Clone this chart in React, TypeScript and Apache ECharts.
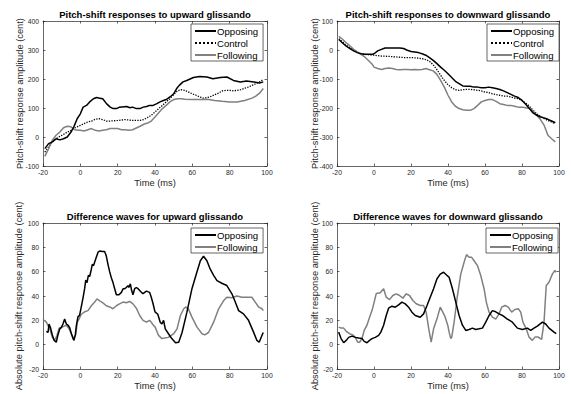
import React, { useEffect, useRef } from "react";
import * as echarts from "echarts";

// ---------- DATA ----------
// Panel 1: Pitch-shift responses to upward glissando
const upOppT = [-19, -17, -15, -13, -11, -9, -7, -5, -3.5, -1.7, 0, 1.5, 3.3, 5, 7, 8.7, 10.4, 12, 14, 16, 17.6, 19.4, 21, 24.8, 26.6, 28, 30, 32, 33.7, 35.5, 37, 39, 41, 42.7, 44.5, 46, 48, 50, 51.6, 53, 55, 57, 60.6, 64, 67.8, 71, 75, 78.5, 82, 85.7, 89, 93, 96, 98];
const upOpp = [-40, -23, -17, -6, -10, -6, 0, 17, 35, 63, 80, 103, 109, 121, 132, 136, 134, 132, 115, 103, 98, 98, 103, 105, 101, 103, 98, 98, 103, 105, 109, 109, 115, 121, 126, 129, 138, 149, 167, 178, 190, 195, 205, 209, 207, 201, 205, 207, 195, 190, 193, 190, 186, 190];
const upCtlT = [-19, -17, -15, -13, -11, -9, -7, -5, -3, -1, 0, 2, 4, 6, 8, 10, 12, 14, 16, 20, 24, 28, 32, 34, 36, 38, 40, 42, 44, 46, 48, 50, 52, 54, 56, 58, 60, 62, 64, 66, 68, 70, 72, 74, 76, 78, 80, 82, 84, 86, 88, 90, 92, 94, 96, 98];
const upCtl = [-52, -34, -17, -6, 2, 9, 17, 23, 31, 37, 40, 46, 52, 55, 61, 63, 60, 55, 55, 57, 60, 57, 57, 60, 67, 75, 86, 98, 109, 121, 132, 146, 159, 163, 161, 155, 149, 144, 138, 134, 136, 140, 146, 151, 159, 161, 161, 159, 161, 163, 168, 172, 178, 184, 190, 198];
const upFolT = [-19, -17, -15, -13, -11, -9, -7, -5, -3, -1, 0, 2, 4, 6, 8, 10, 12, 14, 16, 18, 20, 22, 24, 26, 28, 30, 32, 34, 36, 38, 40, 42, 44, 46, 48, 50, 52, 54, 56, 60, 64, 68, 72, 76, 80, 84, 88, 92, 94, 96, 98];
const upFol = [-67, -40, -11, 6, 17, 32, 37, 35, 25, 23, 23, 21, 25, 29, 23, 21, 23, 25, 29, 29, 29, 25, 25, 23, 25, 31, 37, 44, 48, 55, 69, 84, 98, 109, 121, 129, 132, 132, 130, 129, 129, 130, 126, 123, 121, 121, 126, 134, 141, 151, 167];

// Panel 2: Pitch-shift responses to downward glissando
const downOppT = [-19, -17, -15, -13, -11, -9, -7, -5, -3, -1, 0, 2, 4, 6, 8, 10, 12, 14, 16, 18, 20, 22, 24, 26, 28, 30, 32, 34, 36, 38, 40, 42, 44, 46, 48, 50, 52, 54, 56, 58, 60, 62, 64, 66, 68, 70, 72, 74, 76, 78, 80, 82, 84, 86, 88, 90, 92, 94, 96, 98];
const downOpp = [36, 24, 13, 5, -3, -9, -13, -15, -15, -15, -13, -3, 2, 7, 7, 7, 7, 7, 5, -1, -5, -7, -9, -13, -18, -26, -36, -47, -59, -70, -82, -95, -108, -116, -124, -125, -125, -128, -128, -130, -130, -128, -130, -133, -136, -141, -147, -153, -159, -164, -174, -187, -202, -217, -225, -231, -234, -239, -245, -251];
const downCtlT = [-19, -17, -15, -13, -11, -9, -7, -5, -3, -1, 0, 4, 8, 12, 16, 20, 24, 26, 28, 30, 32, 34, 36, 38, 40, 42, 44, 46, 48, 50, 52, 54, 56, 58, 60, 62, 64, 66, 68, 70, 72, 74, 76, 78, 80, 82, 84, 86, 88, 90, 92, 94, 96, 98];
const downCtl = [39, 28, 16, 7, -1, -7, -13, -15, -16, -18, -18, -21, -22, -24, -26, -26, -28, -30, -33, -39, -51, -68, -87, -105, -120, -130, -137, -139, -137, -136, -136, -137, -139, -141, -145, -147, -151, -154, -156, -159, -159, -162, -166, -168, -174, -183, -194, -208, -220, -229, -237, -243, -248, -254];
const downFolT = [-19, -17, -15, -13, -11, -9, -7, -5, -3, -1, 0, 2, 4, 6, 8, 10, 12, 14, 16, 18, 20, 22, 24, 26, 28, 30, 32, 34, 36, 38, 40, 42, 44, 46, 48, 50, 52, 54, 56, 58, 60, 62, 64, 66, 68, 70, 72, 74, 76, 78, 80, 82, 84, 86, 88, 90, 92, 94, 96, 98];
const downFol = [47, 37, 25, 14, 2, -7, -15, -24, -36, -49, -59, -64, -67, -64, -62, -64, -67, -68, -67, -67, -68, -67, -68, -67, -64, -68, -72, -84, -105, -128, -156, -179, -194, -202, -206, -208, -208, -202, -191, -179, -174, -171, -171, -177, -185, -188, -191, -191, -194, -197, -197, -199, -202, -210, -225, -240, -260, -294, -306, -317];

// Panel 3: Difference waves for upward glissando
const upDiffOppT = [-18.2, -17.3, -16.8, -16, -15, -14, -12.9, -12, -11, -10.2, -9.3, -8.4, -7.5, -6.6, -5.7, -4.8, -3.9, -3.4, -2.7, -2.1, -1.25, -0.4, 0.5, 1.4, 2.3, 2.9, 3.6, 4.3, 5, 5.9, 6.4, 7.1, 7.7, 8.6, 9.5, 10.4, 11.8, 13, 13.9, 14.8, 15.7, 16.6, 17.5, 18.4, 19.3, 20.7, 22, 22.9, 23.8, 24.6, 25.5, 26, 26.8, 27.5, 28.2, 29.1, 30, 30.9, 31.8, 32.7, 33.6, 35.4, 37.1, 38, 38.9, 40, 41.5, 42.8, 43.7, 44.6, 45.5, 47.2, 49, 51, 52.7, 54.5, 57.1, 59.8, 62.5, 64.3, 66, 67.8, 69.6, 71.4, 73.2, 75.8, 78.5, 81.2, 83, 84.8, 87.4, 90.1, 92.8, 94.6, 95.8, 97.3, 98];
const upDiffOpp = [11, 10, 17, 14, 8, 3.5, 2, 8, 13, 14, 17, 21, 17, 16, 14, 9, 5, 3.5, 8, 16, 23, 24, 31, 38, 46, 53, 51, 57, 56, 62, 66, 65, 68, 72, 76, 77, 76.5, 76.5, 73, 66, 60, 55, 51, 46, 41, 41, 43, 46, 46, 47, 48.5, 47, 50, 44.5, 41, 46, 47, 46, 44.5, 43, 42, 44, 43, 39, 34, 27, 25, 18.5, 17, 20, 13, 9, 5, 1.6, 2, 10, 26.7, 46, 60, 69, 72.7, 69, 62, 57, 52.7, 50.5, 48.6, 41.8, 35, 28, 25.3, 20, 10.3, 3.5, 2, 7.6, 10];
const upDiffFolT = [-20, -18.2, -16.4, -15, -13.8, -12.5, -11.4, -10.2, -8.9, -7.5, -6, -4.8, -3.6, -2.5, -1.6, -0.7, 0.5, 2.3, 4.1, 5.9, 7.7, 8.9, 10.4, 12.1, 13.9, 15.7, 17.5, 19.3, 21, 22.9, 24.6, 26.4, 28.2, 30, 31.8, 33.6, 35.4, 37.1, 38, 38.9, 40.1, 41.9, 43.7, 47.2, 50, 51.8, 53.6, 55.4, 56.6, 58, 59.8, 62.5, 65.2, 66.6, 68.7, 71.4, 74.1, 76.7, 78.5, 81.2, 83.9, 86.5, 89.2, 91.9, 93.7, 95.5, 97.3, 98];
const upDiffFol = [20.7, 18.5, 13, 6, 3.5, 7.5, 13.6, 14.4, 15, 16, 13, 9, 5, 8, 18.5, 21, 25, 27, 28, 32, 35, 37.6, 36, 34.4, 32, 31, 29.5, 32, 33.5, 35, 34.4, 35.5, 33.5, 30, 24, 20, 18.5, 20, 18.5, 16.3, 14.4, 7.6, 5, 6, 9, 13, 24, 29.5, 31, 29, 22.6, 14.4, 9, 8, 10, 18.5, 29.5, 36, 39, 38.5, 40, 39, 39, 39, 35, 31, 29.5, 28];

// Panel 4: Difference waves for downward glissando
const downDiffOppT = [-19.1, -17.8, -16.4, -15, -13.7, -11.9, -10.1, -8.3, -6.5, -5.3, -3.8, -2.4, -1.1, 0.7, 2.5, 3.7, 5.2, 6.6, 7.9, 9.7, 11.5, 13.3, 15.1, 16.9, 18.7, 20.5, 22.3, 25, 26.8, 28.6, 30.4, 32.2, 34, 35.8, 37.6, 39.4, 40.6, 42.4, 44.2, 46, 47.8, 49.6, 51.4, 53.2, 55, 56.8, 58.6, 60.4, 62.2, 64, 65.8, 67.6, 69.4, 72.1, 74.8, 77.5, 80.2, 82.9, 84.7, 86.5, 88.3, 91, 92.8, 94.6, 97.3, 98.5];
const downDiffOpp = [10.3, 5, 1.6, 3.5, 6, 7, 6, 5.4, 5, 2.7, 1.6, 3.5, 5, 6, 7.6, 10.3, 16, 24, 30, 31.6, 30.8, 32.7, 35, 33.5, 30.8, 26.7, 24, 22.6, 25.3, 32, 39, 46, 54, 58, 59.5, 57, 55.4, 46, 35, 24, 16, 11.7, 12.5, 13.6, 12.5, 13, 13.6, 18.5, 24, 28, 27, 25.3, 24, 21, 18.5, 13.6, 12.5, 13.6, 11.7, 13.6, 15.2, 18.5, 17, 13.6, 10.3, 9];
const downDiffFolT = [-19.1, -17.8, -16.4, -15, -13.2, -11.4, -10.1, -8.8, -7.8, -6.5, -5.3, -3.8, -2.4, -1.1, 0.1, 1.2, 3.4, 5.2, 6.6, 8.4, 10.2, 12, 13.8, 15.6, 17.4, 19.2, 21, 22.8, 25, 26.8, 28.2, 29.6, 30.9, 32.2, 34, 35.8, 37.2, 38.5, 39.9, 40.6, 41.5, 42, 43.3, 45.1, 46.9, 48.7, 50, 51.4, 52.8, 54.1, 55.9, 57.7, 59.5, 60.7, 62.2, 64, 65.8, 67.6, 69, 70.8, 72.6, 74.4, 76.2, 78, 79.3, 80.5, 82.3, 83.8, 85.6, 87, 88.8, 90.6, 91.9, 93.1, 94.6, 96.4, 97.8, 98.5];
const downDiffFol = [14.4, 13.6, 13.6, 11, 9, 8, 6, 2, 2, 5, 11.7, 16, 22.6, 28, 35, 42, 42.6, 46, 39, 37, 40.4, 41.8, 40.4, 38.2, 41.8, 40.4, 36.3, 33.6, 32.2, 32.2, 26.7, 13, 2, 13, 21, 30.8, 26.7, 22.6, 15.8, 10.3, 5, 6, 18.5, 40.4, 58, 67.7, 74, 71.8, 71.8, 69, 65, 56.8, 46, 35, 26.7, 22.6, 21, 25.3, 30.8, 32.2, 30.8, 26.7, 28.9, 29.5, 26.7, 18.5, 13, 6.2, 3.5, 6.2, 6.2, 4.3, 18.5, 48.6, 51.3, 58, 61, 59.5];

const titles = [
  "Pitch-shift responses to upward glissando",
  "Pitch-shift responses to downward glissando",
  "Difference waves for upward glissando",
  "Difference waves for downward glissando",
];
const yNames = [
  "Pitch-shift response amplitude (cent)",
  "Pitch-shift response amplitude (cent)",
  "Absolute pitch-shift response amplitude (cent)",
  "Absolute pitch-shift response amplitude (cent)",
];
const xName = "Time (ms)";
const xRange = [-20, 100, 20];
const yRanges = [
  [-100, 400, 100],
  [-400, 100, 100],
  [-20, 100, 20],
  [-20, 100, 20],
];

// ---------- LAYOUT ----------
const FONT = "'Liberation Sans', Arial, Helvetica, sans-serif";
const AX = "#262626";
const grids = [
  { left: 43, top: 21, width: 224, height: 145 },
  { left: 337, top: 21, width: 222, height: 145 },
  { left: 43, top: 223, width: 224, height: 146 },
  { left: 337, top: 223, width: 222, height: 146 },
];
const legendPos = [
  { left: 191, top: 24 },
  { left: 487, top: 24 },
  { left: 191, top: 228 },
  { left: 486, top: 228 },
];
const yNameGaps = [19, 18, 20, 18];

const zip = (t: number[], v: number[]) => t.map((x, i) => [x, v[i]]);

const styles: Record<string, any> = {
  Opposing: { color: "#000000", width: 1.5, type: "solid" },
  Control: { color: "#000000", width: 1.3, type: "dotted" },
  Following: { color: "#808080", width: 1.5, type: "solid" },
};

const panelSeries = [
  [
    ["Opposing", upOppT, upOpp],
    ["Control", upCtlT, upCtl],
    ["Following", upFolT, upFol],
  ],
  [
    ["Opposing", downOppT, downOpp],
    ["Control", downCtlT, downCtl],
    ["Following", downFolT, downFol],
  ],
  [
    ["Opposing", upDiffOppT, upDiffOpp],
    ["Following", upDiffFolT, upDiffFol],
  ],
  [
    ["Opposing", downDiffOppT, downDiffOpp],
    ["Following", downDiffFolT, downDiffFol],
  ],
] as [string, number[], number[]][][];

function buildOption() {
  const xAxis: any[] = [];
  const yAxis: any[] = [];
  const series: any[] = [];
  const legend: any[] = [];
  const title: any[] = [];

  grids.forEach((g, i) => {
    const [ymin, ymax, yint] = yRanges[i];
    const common = {
      gridIndex: i,
      type: "value",
      splitLine: { show: false },
      axisLine: { show: true, onZero: false, lineStyle: { color: AX, width: 0.7 } },
      axisTick: { show: true, inside: true, length: 2.5, lineStyle: { color: AX, width: 0.7 } },
    };
    xAxis.push({
      ...common,
      position: "bottom",
      min: xRange[0],
      max: xRange[1],
      interval: xRange[2],
      axisLabel: { color: AX, fontSize: 6.8, fontFamily: FONT, margin: 3 },
      name: xName,
      nameLocation: "middle",
      nameGap: 12,
      nameMoveOverlap: false,
      nameTextStyle: { color: AX, fontSize: 9.3, fontFamily: FONT },
    });
    xAxis.push({
      ...common,
      position: "top",
      min: xRange[0],
      max: xRange[1],
      interval: xRange[2],
      axisLabel: { show: false },
    });
    yAxis.push({
      ...common,
      position: "left",
      min: ymin,
      max: ymax,
      interval: yint,
      axisLabel: { color: AX, fontSize: 6.8, fontFamily: FONT, margin: 4 },
      name: yNames[i],
      nameLocation: "middle",
      nameGap: yNameGaps[i],
      nameMoveOverlap: false,
      nameTextStyle: { color: AX, fontSize: 9.3, fontFamily: FONT },
    });
    yAxis.push({
      ...common,
      position: "right",
      min: ymin,
      max: ymax,
      interval: yint,
      axisLabel: { show: false },
    });

    panelSeries[i].forEach(([name, t, v]) => {
      const s = styles[name];
      series.push({
        name,
        type: "line",
        xAxisIndex: 2 * i,
        yAxisIndex: 2 * i,
        data: zip(t, v),
        showSymbol: false,
        symbol: "none",
        lineStyle: { color: s.color, width: s.width, type: s.type },
        itemStyle: { color: s.color },
        z: name === "Opposing" ? 3 : 2,
      });
    });

    legend.push({
      ...legendPos[i],
      orient: "vertical",
      data: panelSeries[i].map((p) => p[0]),
      itemWidth: 21,
      itemHeight: 8,
      itemGap: 2,
      padding: [2, 5, 1, 3],
      backgroundColor: "#ffffff",
      borderColor: AX,
      borderWidth: 0.7,
      borderRadius: 0,
      selectedMode: false,
      itemStyle: { opacity: 0 },
      textStyle: { color: "#000", fontSize: 9.6, fontFamily: FONT, padding: [0, 0, 0, -4] },
    });

    title.push({
      text: titles[i],
      left: g.left + g.width / 2,
      top: g.top - 12,
      textAlign: "center",
      padding: 0,
      textStyle: { color: "#000", fontSize: 9.5, fontWeight: "bold", fontFamily: FONT },
    });
  });

  return {
    animation: false,
    backgroundColor: "#ffffff",
    textStyle: { fontFamily: FONT },
    grid: grids.map((g) => ({ ...g, containLabel: false })),
    xAxis,
    yAxis,
    series,
    legend,
    title,
  };
}

export default function App() {
  const ref = useRef<HTMLDivElement>(null);
  useEffect(() => {
    if (!ref.current) return;
    const chart = echarts.init(ref.current, undefined, { renderer: "svg" });
    chart.setOption(buildOption() as any);
    return () => chart.dispose();
  }, []);
  return (
    <div
      ref={ref}
      style={{ position: "fixed", left: 0, top: 0, width: 571, height: 394, background: "#fff" }}
    />
  );
}
